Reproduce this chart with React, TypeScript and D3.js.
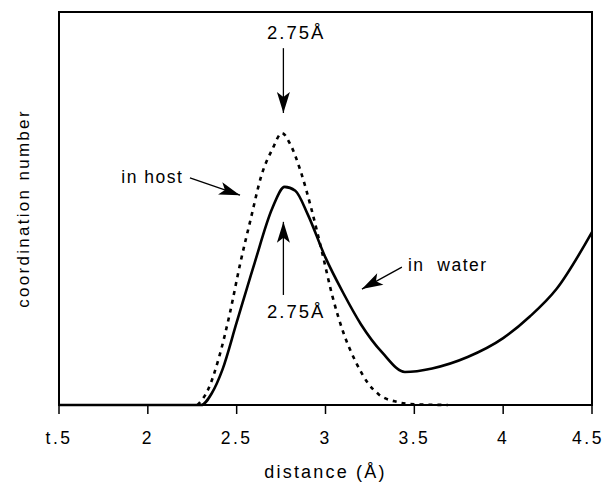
import React from "react";
import * as d3 from "d3";

// coordination number vs distance (arbitrary y units 0..10)
const hostX = [2.28, 2.34, 2.4, 2.46, 2.52, 2.58, 2.64, 2.7, 2.755, 2.8, 2.86, 2.92, 2.98, 3.04, 3.1, 3.17, 3.24, 3.3, 3.4, 3.5, 3.69];
const hostY = [0, 0.4, 1.2, 2.3, 3.6, 4.75, 5.85, 6.5, 6.92, 6.65, 5.95, 5.0, 3.9, 2.75, 1.85, 1.1, 0.55, 0.27, 0.08, 0.02, 0];

const waterX = [1.5, 2.0, 2.3, 2.36, 2.42, 2.5, 2.6, 2.7, 2.77, 2.83, 2.9, 3.0, 3.1, 3.2, 3.32, 3.447, 3.6, 3.8, 4.0, 4.15, 4.3, 4.5];
const waterY = [0, 0, 0, 0.3, 0.9, 2.1, 3.6, 5.0, 5.55, 5.45, 4.85, 3.75, 2.85, 2.05, 1.33, 0.84, 0.93, 1.22, 1.7, 2.25, 2.95, 4.4];

const xTicks = [1.5, 2, 2.5, 3, 3.5, 4, 4.5];
const xTickLabels = ["t.5", "2", "2.5", "3", "3.5", "4", "4.5"];

const W = 606;
const H = 483;
const margin = { top: 12, right: 14, bottom: 78, left: 59 };
const FONT = "'Liberation Sans', Arial, Helvetica, sans-serif";

const arrowHead = (x1: number, y1: number, x2: number, y2: number, len = 21, hw = 6.5) => {
  const a = Math.atan2(y2 - y1, x2 - x1);
  const c = Math.cos(a), s = Math.sin(a);
  const bx = x2 - len * c, by = y2 - len * s;
  const nx = x2 - (len - 5) * c, ny = y2 - (len - 5) * s;
  return `M${x2},${y2} L${bx - hw * s},${by + hw * c} L${nx},${ny} L${bx + hw * s},${by - hw * c} Z`;
};

const App = () => {
  const iw = W - margin.left - margin.right;
  const ih = H - margin.top - margin.bottom;
  const x = d3.scaleLinear().domain([1.5, 4.5]).range([margin.left, margin.left + iw]);
  const y = d3.scaleLinear().domain([0, 10]).range([margin.top + ih, margin.top]);

  const line = d3
    .line<[number, number]>()
    .x((d) => x(d[0]))
    .y((d) => y(d[1]))
    .curve(d3.curveMonotoneX);

  const host = hostX.map((v, i) => [v, hostY[i]] as [number, number]);
  const water = waterX.map((v, i) => [v, waterY[i]] as [number, number]);

  const arrows = [
    { x1: x(2.763), y1: y(9.08), x2: x(2.763), y2: y(7.43) },
    { x1: x(2.763), y1: y(2.8), x2: x(2.763), y2: y(4.66) },
    { x1: x(2.237), y1: y(5.78), x2: x(2.519), y2: y(5.34) },
    { x1: x(3.43), y1: y(3.51), x2: x(3.205), y2: y(2.95) },
  ];

  const bottom = margin.top + ih;

  return (
    <svg
      width={W}
      height={H}
      style={{ position: "absolute", left: 0, top: 0, background: "white" }}
      fontFamily={FONT}
    >
      <rect x={margin.left} y={margin.top} width={iw} height={ih} fill="none" stroke="#000" strokeWidth={2} />
      {xTicks.map((t, i) => (
        <g key={t}>
          <line x1={x(t)} x2={x(t)} y1={bottom} y2={bottom + 9} stroke="#000" strokeWidth={1.5} />
          <text
            x={Math.min(x(t), W - 18)}
            y={bottom + 33}
            textAnchor="middle"
            dominantBaseline="central"
            fontSize={17.5}
            letterSpacing={2.5}
          >
            {xTickLabels[i]}
          </text>
        </g>
      ))}
      <text
        x={x(3)}
        y={472}
        textAnchor="middle"
        dominantBaseline="central"
        fontSize={18}
        letterSpacing={2.2}
      >
        distance (Å)
      </text>
      <text
        transform={`translate(23,${margin.top + ih / 2}) rotate(-90)`}
        textAnchor="middle"
        dominantBaseline="central"
        fontSize={17}
        letterSpacing={2.3}
      >
        coordination number
      </text>

      <path d={line(host) || ""} fill="none" stroke="#000" strokeWidth={2.6} strokeDasharray="4 5" />
      <path d={line(water) || ""} fill="none" stroke="#000" strokeWidth={2.6} strokeLinejoin="round" />

      {arrows.map((a, i) => (
        <g key={i}>
          <line x1={a.x1} y1={a.y1} x2={a.x2} y2={a.y2} stroke="#000" strokeWidth={1.3} />
          <path d={arrowHead(a.x1, a.y1, a.x2, a.y2)} fill="#000" />
        </g>
      ))}

      <text x={x(2.835)} y={y(9.47)} textAnchor="middle" dominantBaseline="central" fontSize={18.5} letterSpacing={2}>
        2.75Å
      </text>
      <text x={x(2.835)} y={y(2.37)} textAnchor="middle" dominantBaseline="central" fontSize={18.5} letterSpacing={2}>
        2.75Å
      </text>
      <text x={x(2.2)} y={y(5.8)} textAnchor="end" dominantBaseline="central" fontSize={17.5} letterSpacing={1.5}>
        in host
      </text>
      <text
        x={x(3.464)}
        y={y(3.56)}
        dominantBaseline="central"
        fontSize={17.5}
        letterSpacing={1.5}
        style={{ whiteSpace: "pre" }}
      >
        in  water
      </text>
    </svg>
  );
};

export default App;
